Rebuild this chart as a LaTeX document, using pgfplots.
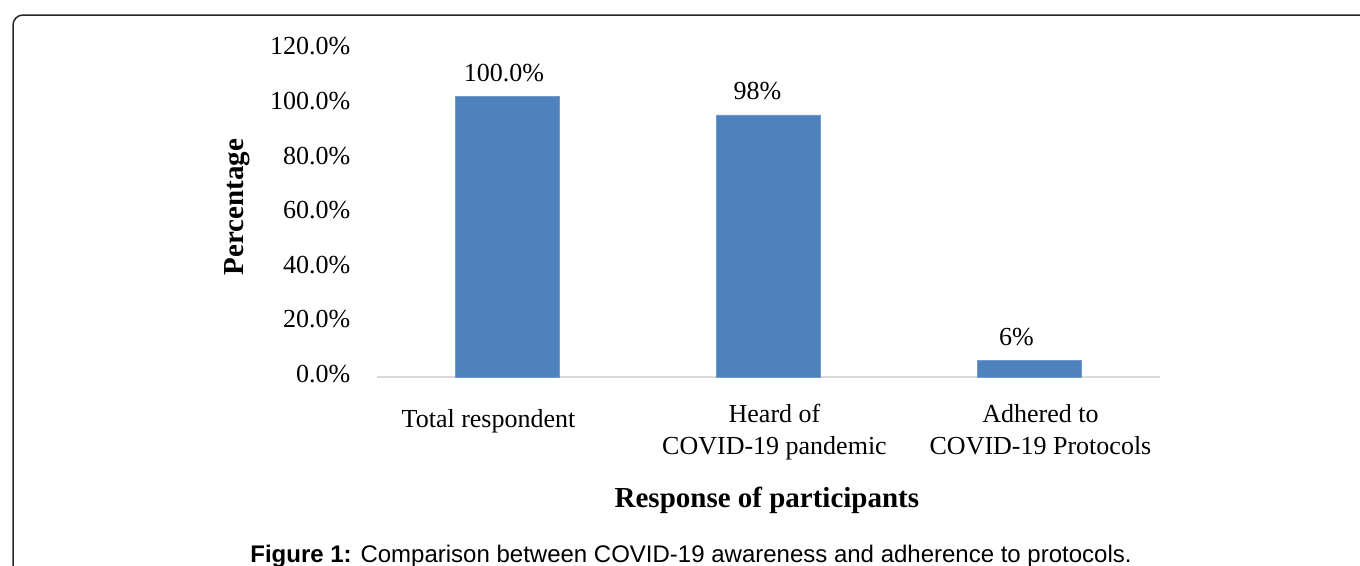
\documentclass[border=0pt]{standalone}
\usepackage{fontspec}
\setmainfont{Liberation Serif}
\newfontfamily\capfont{Liberation Sans}
\usepackage{pgfplots}
\usepackage{pgfplotstable}
\pgfplotsset{compat=1.18}
\definecolor{barblue}{HTML}{4F81BD}
\definecolor{axgray}{HTML}{D9D9D9}
\pgfplotstableread{
x y lab
0 102.7 100.0\%\hspace*{3.5bp}
1 96.0 98\%\hspace*{11bp}
2 6.2 6\%\hspace*{13bp}
}\datatable
\begin{document}
\begin{tikzpicture}
\useasboundingbox (0,0) rectangle (680bp,-283bp);
\begin{scope}
\clip (0,0) rectangle (680bp,-283bp);
\draw[line width=0.75bp, draw=black!85, rounded corners=5bp] (6.5bp,-320bp) -- (6.5bp,-7.5bp) -- (720bp,-7.5bp);
\end{scope}
\begin{axis}[
  at={(188.5bp,-188.5bp)}, anchor=south west,
  scale only axis, width=391.5bp, height=163.8bp,
  xmin=-0.5, xmax=2.5, ymin=0, ymax=120,
  axis x line=bottom, axis y line=left,
  x axis line style={draw=axgray, line width=0.6bp, -},
  y axis line style={draw=none},
  xtick={0,1,2},
  xticklabels={{\rule{0pt}{11.2bp}Total respondent\hspace*{19bp}},{\hspace*{6bp}Heard of\\\hspace*{6bp}COVID-19 pandemic},{\hspace*{11bp}Adhered to\\\hspace*{11bp}COVID-19 Protocols}},
  major x tick style={draw=none},
  extra x ticks={-0.5,0.5,1.5,2.5},
  extra x tick labels={},
  extra x tick style={tick align=outside, major tick length=3.5bp, tick style={draw=axgray, line width=0.6bp}},
  xticklabel style={anchor=north, inner sep=0pt, align=center, font=\fontsize{13bp}{16bp}\selectfont, yshift=-11.5bp},
  ytick={0,20,40,60,80,100,120},
  major y tick style={draw=none},
  yticklabel={\pgfmathprintnumber[fixed,fixed zerofill,precision=1]{\tick}\%},
  yticklabel style={anchor=east, inner sep=0pt, xshift=-11bp, yshift=1.5bp, font=\fontsize{13bp}{16bp}\selectfont},
  /pgf/number format/assume math mode=true,
  ylabel={Percentage},
  ylabel style={at={(axis description cs:-0.179,0.519)}, rotate=0, anchor=center, font=\bfseries\fontsize{14.5bp}{17bp}\selectfont},
  xlabel={Response of participants},
  xlabel style={at={(axis description cs:0.498,-0.378)}, anchor=center, font=\bfseries\fontsize{14.5bp}{17bp}\selectfont},
  clip=false,
]
\addplot[ybar, bar width=52bp, fill=barblue, draw=barblue!80!white, line width=0.3bp,
  point meta=explicit symbolic,
  nodes near coords,
  nodes near coords style={anchor=base, inner sep=0pt, yshift=7.5bp, font=\fontsize{13bp}{16bp}\selectfont, text=black}
] table[x=x, y=y, meta=lab] {\datatable};
\end{axis}
\node[anchor=base, inner sep=0pt, font=\capfont\fontsize{12bp}{14bp}\selectfont] at (345.5bp,-281.2bp) {\textbf{Figure 1:} Comparison between COVID-19 awareness and adherence to protocols.};
\end{tikzpicture}
\end{document}
